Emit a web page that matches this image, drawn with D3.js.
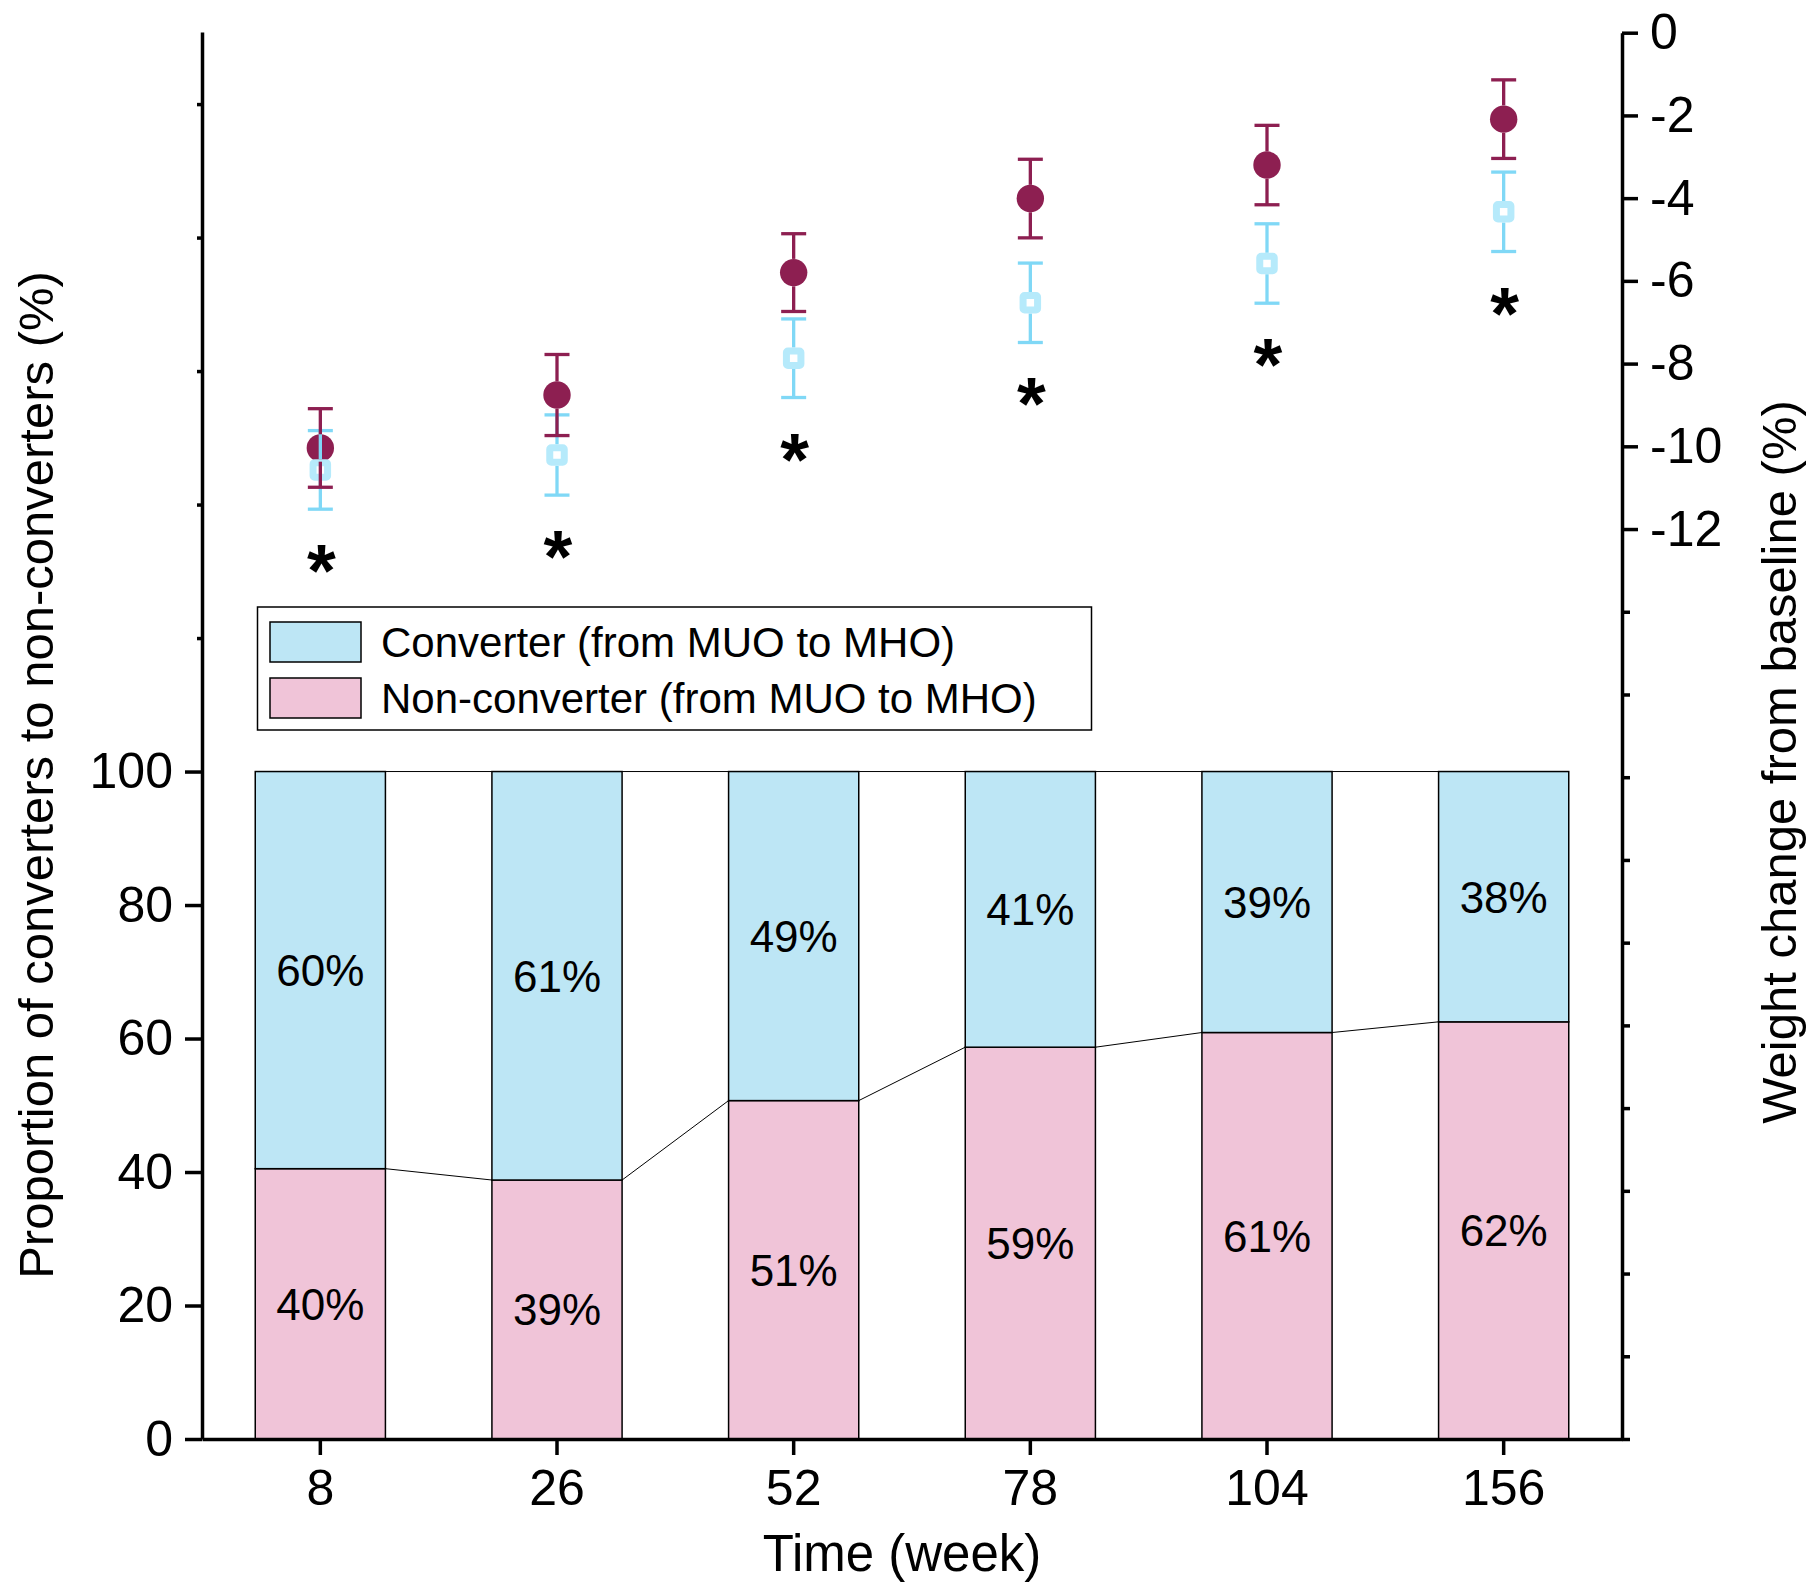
<!DOCTYPE html>
<html>
<head>
<meta charset="utf-8">
<script src="https://cdn.jsdelivr.net/npm/d3@7"></script>
<style>
  body { margin: 0; background: #fff; }
  text { font-family: Arial, "Liberation Sans", Helvetica, sans-serif; fill: #000; }
</style>
</head>
<body>
<svg id="chart"></svg>
<script>
// values
const weeks = ["8", "26", "52", "78", "104", "156"];
const nonConverterPct = [40.5, 38.8, 50.7, 58.7, 60.9, 62.5];
const converterPct = [59.5, 61.2, 49.3, 41.3, 39.1, 37.5];
const nonConverterLabels = ["40%", "39%", "51%", "59%", "61%", "62%"];
const converterLabels = ["60%", "61%", "49%", "41%", "39%", "38%"];

const nonConverterWeight = [-10.04, -8.76, -5.80, -4.01, -3.20, -2.09];
const nonConverterSE = [0.95, 0.98, 0.94, 0.95, 0.96, 0.95];
const converterWeight = [-10.57, -10.21, -7.87, -6.53, -5.58, -4.33];
const converterSE = [0.95, 0.97, 0.95, 0.96, 0.96, 0.96];

const leftTicks = [0, 20, 40, 60, 80, 100];
const leftMinorTicks = [120, 140, 160, 180, 200];
const rightTicks = [0, -2, -4, -6, -8, -10, -12];
const rightMinorTicks = [-14, -16, -18, -20, -22, -24, -26, -28, -30, -32, -34];

const legendItems = ["Converter (from MUO to MHO)", "Non-converter (from MUO to MHO)"];

const blueFill = '#bde6f5';
const pinkFill = '#f0c4d8';
const purple = '#8d1f51';
const skyBlue = '#80d8f6';
const paleBlue = '#b6eafb';

const width = 1811;
const height = 1582;
const plotLeft = 202, plotRight = 1622, plotBottom = 1439, plotTop = 32;

const svg = d3.select('#chart')
  .attr('width', width)
  .attr('height', height);

const x = d3.scaleBand()
  .domain(weeks)
  .range([plotLeft, plotRight])
  .paddingInner(0.45)
  .paddingOuter(0.225);

const yL = d3.scaleLinear().domain([0, 210.8]).range([plotBottom, plotTop]);
const yR = d3.scaleLinear().domain([-34, 0]).range([plotBottom, 32.7]);

const rows = weeks.map((w, i) => ({
  week: w,
  non: nonConverterPct[i],
  conv: converterPct[i],
  nonLabel: nonConverterLabels[i],
  convLabel: converterLabels[i],
  nw: nonConverterWeight[i], nse: nonConverterSE[i],
  cw: converterWeight[i], cse: converterSE[i]
}));

// stacked bars
const bars = svg.append('g');

bars.selectAll('.nonbar')
  .data(rows)
  .enter().append('rect')
    .attr('x', d => x(d.week))
    .attr('y', d => yL(d.non))
    .attr('width', x.bandwidth())
    .attr('height', d => yL(0) - yL(d.non))
    .attr('fill', pinkFill)
    .attr('stroke', '#000')
    .attr('stroke-width', 1.5);

bars.selectAll('.convbar')
  .data(rows)
  .enter().append('rect')
    .attr('x', d => x(d.week))
    .attr('y', d => yL(d.non + d.conv))
    .attr('width', x.bandwidth())
    .attr('height', d => yL(d.non) - yL(d.non + d.conv))
    .attr('fill', blueFill)
    .attr('stroke', '#000')
    .attr('stroke-width', 1.5);

// connecting lines between bars
const links = svg.append('g')
  .attr('stroke', '#000')
  .attr('stroke-width', 1)
  .attr('fill', 'none');

rows.slice(1).forEach((d, i) => {
  const p = rows[i];
  links.append('line')
    .attr('x1', x(p.week) + x.bandwidth()).attr('y1', yL(p.non))
    .attr('x2', x(d.week)).attr('y2', yL(d.non));
  links.append('line')
    .attr('x1', x(p.week) + x.bandwidth()).attr('y1', yL(p.non + p.conv))
    .attr('x2', x(d.week)).attr('y2', yL(d.non + d.conv));
});

// bar labels
bars.selectAll('.nonlab')
  .data(rows)
  .enter().append('text')
    .attr('x', d => x(d.week) + x.bandwidth() / 2)
    .attr('y', d => yL(d.non / 2))
    .attr('dy', '0.36em')
    .attr('text-anchor', 'middle')
    .style('font-size', '44px')
    .text(d => d.nonLabel);

bars.selectAll('.convlab')
  .data(rows)
  .enter().append('text')
    .attr('x', d => x(d.week) + x.bandwidth() / 2)
    .attr('y', d => yL(d.non + d.conv / 2))
    .attr('dy', '0.36em')
    .attr('text-anchor', 'middle')
    .style('font-size', '44px')
    .text(d => d.convLabel);

// legend
const legend = svg.append('g');
legend.append('rect')
  .attr('x', 257.5).attr('y', 607)
  .attr('width', 834).attr('height', 123)
  .attr('fill', '#fff')
  .attr('stroke', '#000')
  .attr('stroke-width', 1.5);

legend.selectAll('.item')
  .data(legendItems)
  .enter().append('g')
    .attr('transform', (d, i) => 'translate(270,' + (622 + i * 56) + ')')
    .each(function(d, i) {
      const g = d3.select(this);
      g.append('rect')
        .attr('width', 91).attr('height', 40)
        .attr('fill', i === 0 ? blueFill : pinkFill)
        .attr('stroke', '#000')
        .attr('stroke-width', 1.5);
      g.append('text')
        .attr('x', 111).attr('y', 20)
        .attr('dy', '0.36em')
        .style('font-size', '42px')
        .text(d);
    });

// weight change points
const pts = svg.append('g');
const cap = 12.5;
const circR = 13.7;
const sq = 14.5;

function errorBars(g, data, val, se, gap, color) {
  data.forEach(d => {
    const cx = x(d.week) + x.bandwidth() / 2;
    const yc = yR(val(d));
    const yt = yR(val(d) + se(d));
    const yb = yR(val(d) - se(d));
    const e = g.append('g').attr('stroke', color).attr('stroke-width', 3.3).attr('fill', 'none');
    e.append('line').attr('x1', cx).attr('x2', cx).attr('y1', yt).attr('y2', yc - gap);
    e.append('line').attr('x1', cx).attr('x2', cx).attr('y1', yc + gap).attr('y2', yb);
    e.append('line').attr('x1', cx - cap).attr('x2', cx + cap).attr('y1', yt).attr('y2', yt);
    e.append('line').attr('x1', cx - cap).attr('x2', cx + cap).attr('y1', yb).attr('y2', yb);
  });
}

pts.selectAll('.ncirc')
  .data(rows)
  .enter().append('circle')
    .attr('cx', d => x(d.week) + x.bandwidth() / 2)
    .attr('cy', d => yR(d.nw))
    .attr('r', circR)
    .attr('fill', purple);

errorBars(pts, rows, d => d.cw, d => d.cse, 10.7, skyBlue);

pts.selectAll('.csq')
  .data(rows)
  .enter().append('rect')
    .attr('x', d => x(d.week) + x.bandwidth() / 2 - sq / 2)
    .attr('y', d => yR(d.cw) - sq / 2)
    .attr('width', sq).attr('height', sq)
    .attr('rx', 1.5)
    .attr('fill', '#fff')
    .attr('stroke', paleBlue)
    .attr('stroke-width', 7);

errorBars(pts, rows, d => d.nw, d => d.nse, circR, purple);

// significance markers under converter bars
pts.selectAll('.star')
  .data(rows)
  .enter().append('text')
    .attr('x', d => x(d.week) + x.bandwidth() / 2 + 1)
    .attr('y', d => yR(d.cw - d.cse) + 87)
    .attr('text-anchor', 'middle')
    .style('font-size', '74px')
    .style('font-weight', 'bold')
    .text('*');

// axes
function styleAxis(g, w) {
  g.select('.domain').attr('stroke-width', w);
  g.selectAll('.tick line').attr('stroke-width', w);
  g.selectAll('.tick text').style('font-size', '50px').attr('fill', '#000');
}

const plain = d => String(d);

svg.append('g')
  .attr('transform', 'translate(' + plotLeft + ',0)')
  .call(d3.axisLeft(yL).tickValues(leftMinorTicks).tickSize(5).tickSizeOuter(0).tickFormat(''))
  .call(g => styleAxis(g, 3.5));

svg.append('g')
  .attr('transform', 'translate(' + plotLeft + ',0)')
  .call(d3.axisLeft(yL).tickValues(leftTicks).tickSize(17).tickSizeOuter(0).tickPadding(12).tickFormat(plain))
  .call(g => { styleAxis(g, 3.5); g.select('.domain').remove(); });

svg.append('g')
  .attr('transform', 'translate(' + plotRight + ',0)')
  .call(d3.axisRight(yR).tickValues(rightMinorTicks).tickSize(8).tickSizeOuter(0).tickFormat(''))
  .call(g => styleAxis(g, 3.5));

svg.append('g')
  .attr('transform', 'translate(' + plotRight + ',0)')
  .call(d3.axisRight(yR).tickValues(rightTicks).tickSize(16).tickSizeOuter(0).tickPadding(12).tickFormat(plain))
  .call(g => { styleAxis(g, 3.5); g.select('.domain').remove(); });

svg.append('g')
  .attr('transform', 'translate(0,' + plotBottom + ')')
  .call(d3.axisBottom(x).tickSize(16).tickSizeOuter(0).tickPadding(14))
  .call(g => styleAxis(g, 3.5));

// axis titles
svg.append('text')
  .attr('transform', 'translate(53,775) rotate(-90)')
  .attr('text-anchor', 'middle')
  .style('font-size', '49px')
  .text('Proportion of converters to non-converters (%)');

svg.append('text')
  .attr('transform', 'translate(1796,762) rotate(-90)')
  .attr('text-anchor', 'middle')
  .style('font-size', '49px')
  .text('Weight change from baseline (%)');

svg.append('text')
  .attr('x', 902).attr('y', 1571)
  .attr('text-anchor', 'middle')
  .style('font-size', '51px')
  .text('Time (week)');
</script>
</body>
</html>
